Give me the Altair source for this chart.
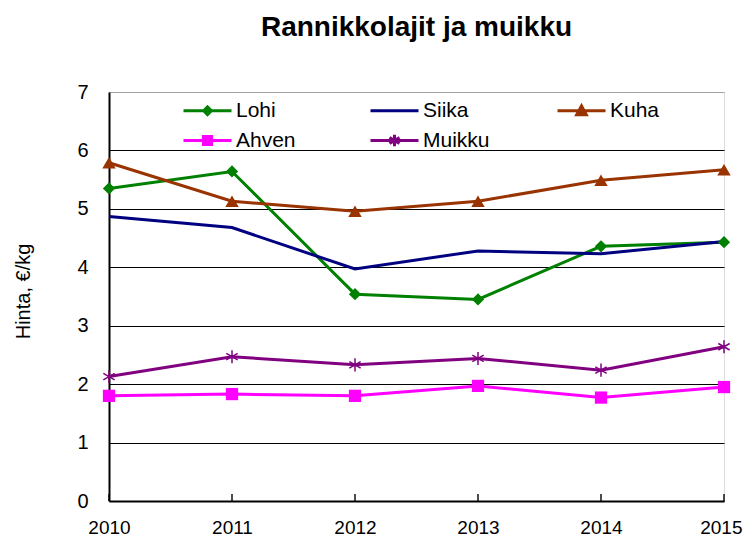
import altair as alt
import pandas as pd

years = [2010, 2011, 2012, 2013, 2014, 2015]
series = ["Lohi", "Siika", "Kuha", "Ahven", "Muikku"]
lohi = [5.35, 5.64, 3.54, 3.45, 4.36, 4.43]
siika = [4.87, 4.68, 3.97, 4.28, 4.23, 4.44]
kuha = [5.79, 5.13, 4.96, 5.13, 5.49, 5.67]
ahven = [1.80, 1.83, 1.80, 1.97, 1.77, 1.95]
muikku = [2.13, 2.47, 2.33, 2.44, 2.24, 2.64]
colors = ["#008000", "#000080", "#993300", "#FF00FF", "#800080"]

values = {"Lohi": lohi, "Siika": siika, "Kuha": kuha, "Ahven": ahven, "Muikku": muikku}
rows = []
for s in series:
    for y, v in zip(years, values[s]):
        rows.append({"series": s, "year": y, "price": v})
df = pd.DataFrame(rows)
ticks_df = pd.DataFrame({"year": years})

FONT = "Liberation Sans"

# legend symbols: line + marker (custom SVG paths, 1 unit = 12 px)
legend_paths = [
    "M-2,0L2,0M-0.32,0L0,-0.32L0.32,0L0,0.32Z",
    "M-2,0L2,0",
    "M-2,0L2,0M-0.4,0.34L0,-0.4L0.4,0.34Z",
    "M-2,0L2,0M-0.34,-0.34L0.34,-0.34L0.34,0.34L-0.34,0.34Z",
    "M-2,0L2,0M0,-0.48L0,0.48M-0.42,-0.24L0.42,0.24M-0.42,0.24L0.42,-0.24",
]
asterisk = "M0,-1L0,1M-0.87,-0.5L0.87,0.5M-0.87,0.5L0.87,-0.5"
markers = {
    "Lohi": dict(shape="diamond", size=150, filled=True),
    "Kuha": dict(shape="triangle-up", size=180, filled=True),
    "Ahven": dict(shape="square", size=150, filled=True),
    "Muikku": dict(shape=asterisk, size=170, filled=False, strokeWidth=1.5),
}

last = years[-1]
x_enc = alt.X(
    "year:Q",
    scale=alt.Scale(domain=[years[0], last], nice=False, zero=False),
    axis=alt.Axis(
        values=years, format="d", title=None, grid=False, ticks=False, tickSize=0,
        domainColor="black", domainWidth=2, labelFont=FONT, labelFontSize=19,
        labelColor="black", labelPadding=17, labelFlush=False,
        labelAlign=alt.condition(f"datum.value == {last}", alt.value("right"), alt.value("center")),
        labelOffset=alt.condition(f"datum.value == {last}", alt.value(18), alt.value(0)),
    ),
)
y_enc = alt.Y(
    "price:Q",
    scale=alt.Scale(domain=[0, 7], nice=False),
    axis=alt.Axis(
        values=[0, 1, 2, 3, 4, 5, 6, 7], format="d", title="Hinta, €/kg", grid=True,
        gridColor=alt.condition("datum.value == 7", alt.value("#a0a0a0"), alt.value("black")),
        gridWidth=1, ticks=False, tickSize=0, domainColor="black", domainWidth=2,
        labelFont=FONT, labelFontSize=20, labelColor="black", labelPadding=21,
        titleFont=FONT, titleFontSize=20, titleFontWeight="normal", titleColor="black",
        titleX=-86, titleY=199, titleAngle=-90, titleAlign="center", titleBaseline="middle",
    ),
)

base = alt.Chart(df)
layers = []
for s, c in zip(series, colors):
    sub = base.transform_filter(alt.datum.series == s)
    enc_x = x_enc if not layers else alt.X("year:Q")
    enc_y = y_enc if not layers else alt.Y("price:Q")
    layers.append(sub.mark_line(strokeWidth=3, color=c).encode(x=enc_x, y=enc_y))
for s, c in zip(series, colors):
    if s in markers:
        sub = base.transform_filter(alt.datum.series == s)
        layers.append(sub.mark_point(color=c, opacity=1, **markers[s]).encode(x="year:Q", y="price:Q"))

legend_layer = base.mark_point(filled=True, opacity=1, size=0).encode(
    x="year:Q", y="price:Q",
    color=alt.Color(
        "series:N", scale=alt.Scale(domain=series, range=colors),
        legend=alt.Legend(
            title=None, orient="none", legendX=85, legendY=4, columns=3,
            direction="horizontal", gridAlign="all", columnPadding=61, rowPadding=5,
            symbolSize=576, symbolStrokeWidth=3, labelFont=FONT, labelFontSize=21,
            labelColor="black", labelOffset=15, padding=0,
        ),
    ),
    stroke=alt.Stroke("series:N", scale=alt.Scale(domain=series, range=colors)),
    shape=alt.Shape("series:N", scale=alt.Scale(domain=series, range=legend_paths)),
)

ticks = alt.Chart(ticks_df).mark_tick(
    orient="vertical", size=7, thickness=2, color="black", yOffset=-3.5
).encode(x="year:Q", y=alt.datum(0))

chart = alt.layer(*layers, ticks, legend_layer).properties(
    width=615, height=409,
    title=alt.TitleParams(
        "Rannikkolajit ja muikku", font=FONT, fontSize=28, fontWeight="bold",
        color="black", anchor="middle", offset=40,
    ),
    autosize=alt.AutoSizeParams(type="none"),
    padding={"left": 101, "top": 84, "right": 19, "bottom": 35},
).configure_view(stroke="#a0a0a0", strokeWidth=1).configure(background="white")

chart.save("out.html", embed_options={"renderer": "svg", "actions": False})
